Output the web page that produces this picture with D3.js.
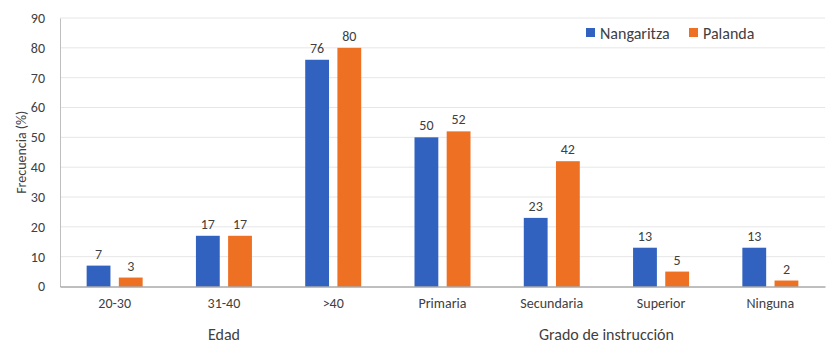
<!DOCTYPE html>
<html>
<head>
<meta charset="utf-8">
<script src="https://cdn.jsdelivr.net/npm/d3@7"></script>
<style>
  body { margin: 0; background: #fff; }
  svg text { font-family: Carlito, Lato, "Open Sans", sans-serif; fill: #404040; }
</style>
</head>
<body>
<div class="canvas"></div>
<script>
const categories = ['20-30', '31-40', '>40', 'Primaria', 'Secundaria', 'Superior', 'Ninguna'];
const series = ['Nangaritza', 'Palanda'];
const nangaritza = [7, 17, 76, 50, 23, 13, 13];
const palanda = [3, 17, 80, 52, 42, 5, 2];
const yTicks = [0, 10, 20, 30, 40, 50, 60, 70, 80, 90];
const groups = [
  { name: 'Edad', from: '20-30', to: '>40' },
  { name: 'Grado de instrucción', from: 'Primaria', to: 'Ninguna' }
];
const colors = { Nangaritza: '#3162BF', Palanda: '#EE7022' };

const width = 834, height = 347;
const margin = { top: 18, right: 9, bottom: 60.5, left: 60 };
const graphWidth = width - margin.left - margin.right;
const graphHeight = height - margin.top - margin.bottom;

const svg = d3.select('.canvas')
  .append('svg')
  .attr('width', width)
  .attr('height', height);

const graph = svg.append('g')
  .attr('transform', `translate(${margin.left}, ${margin.top})`);

// scales
const x = d3.scaleBand()
  .domain(categories)
  .range([0, graphWidth]);

const x1 = d3.scaleBand()
  .domain(series)
  .range([x.bandwidth() / 2 - 28, x.bandwidth() / 2 + 28])
  .paddingInner(0.26);

const y = d3.scaleLinear()
  .domain([0, 90])
  .range([graphHeight, 0]);

// gridlines
graph.append('g')
  .selectAll('line')
  .data(yTicks.slice(1))
  .enter().append('line')
  .attr('x1', 0)
  .attr('x2', graphWidth)
  .attr('y1', d => y(d))
  .attr('y2', d => y(d))
  .attr('stroke', '#e6e6e6')
  .attr('stroke-width', 1);

// y axis
const yAxisGroup = graph.append('g');
yAxisGroup.call(d3.axisLeft(y).tickValues(yTicks).tickSize(0).tickPadding(15));
yAxisGroup.select('.domain').attr('stroke', '#bfbfbf');
yAxisGroup.selectAll('text').style('font-size', '14px');

// bars
const data = categories.map((c, i) => ({
  cat: c,
  values: [
    { key: 'Nangaritza', value: nangaritza[i] },
    { key: 'Palanda', value: palanda[i] }
  ]
}));

const catGroups = graph.selectAll('.cat')
  .data(data)
  .enter().append('g')
  .attr('class', 'cat')
  .attr('transform', d => `translate(${x(d.cat)}, 0)`);

catGroups.selectAll('rect')
  .data(d => d.values)
  .enter().append('rect')
  .attr('x', d => x1(d.key))
  .attr('width', x1.bandwidth())
  .attr('y', d => y(d.value))
  .attr('height', d => graphHeight - y(d.value))
  .attr('fill', d => colors[d.key]);

catGroups.selectAll('.val')
  .data(d => d.values)
  .enter().append('text')
  .attr('class', 'val')
  .attr('x', d => x1(d.key) + x1.bandwidth() / 2)
  .attr('y', d => y(d.value) - 7)
  .attr('text-anchor', 'middle')
  .style('font-size', '14px')
  .text(d => d.value);

// x axis
const xAxisGroup = graph.append('g')
  .attr('transform', `translate(0, ${graphHeight})`);
xAxisGroup.call(d3.axisBottom(x).tickSize(0).tickPadding(12));
xAxisGroup.select('.domain').attr('stroke', '#7f7f7f');
xAxisGroup.selectAll('text').style('font-size', '14px');

// group labels
graph.selectAll('.grp')
  .data(groups)
  .enter().append('text')
  .attr('class', 'grp')
  .attr('x', d => (x(d.from) + x(d.to) + x.bandwidth()) / 2)
  .attr('y', graphHeight + 53)
  .attr('text-anchor', 'middle')
  .style('font-size', '16px')
  .text(d => d.name);

// y title
svg.append('text')
  .attr('transform', `translate(26, ${margin.top + graphHeight / 2}) rotate(-90)`)
  .attr('text-anchor', 'middle')
  .style('font-size', '14px')
  .text('Frecuencia (%)');

// legend
const legend = svg.append('g')
  .attr('transform', 'translate(586, 33)');
const legendX = [0, 103];
series.forEach((s, i) => {
  const g = legend.append('g').attr('transform', `translate(${legendX[i]}, 0)`);
  g.append('rect')
    .attr('x', 0).attr('y', -5)
    .attr('width', 9).attr('height', 9)
    .attr('fill', colors[s]);
  g.append('text')
    .attr('x', 14)
    .attr('y', 5.5)
    .style('font-size', '16px')
    .text(s);
});
</script>
</body>
</html>
